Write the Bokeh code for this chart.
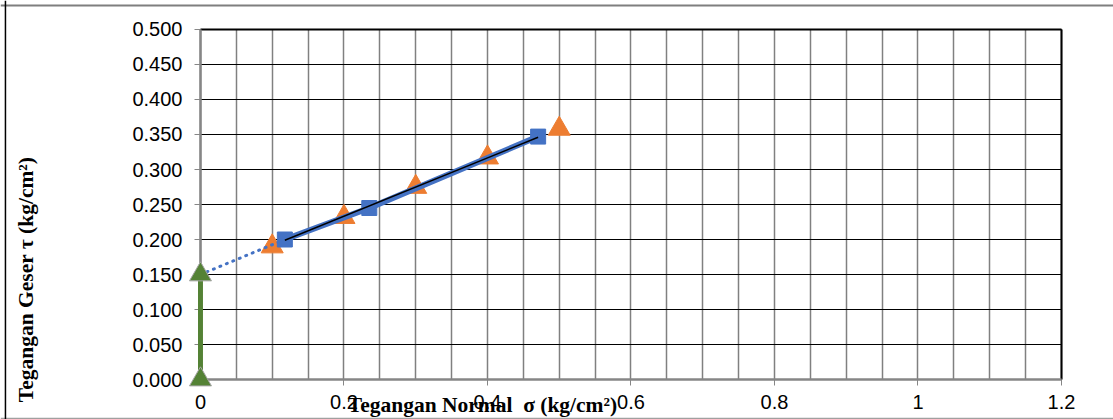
from math import pi
from bokeh.plotting import figure
from bokeh.models import Range1d, FixedTicker, Label, Span, Grid
from bokeh.embed import file_html
from bokeh.resources import INLINE

# ---- data ----
sq_normal = [0.1176, 0.2353, 0.4706]
sq_shear = [0.200, 0.245, 0.347]
tri_normal = [0.1, 0.2, 0.3, 0.4, 0.5]
tri_shear = [0.190, 0.232, 0.275, 0.317, 0.358]
green_normal = [0.0, 0.0]
green_shear = [0.0, 0.150]
ext_normal = [0.0, 0.1176]
ext_shear = [0.150, 0.200]
trend_normal = [0.1176, 0.4706]
trend_shear = [0.199, 0.346]

x_ticks = [0.0, 0.2, 0.4, 0.6, 0.8, 1.0, 1.2]
x_tick_labels = ["0", "0.2", "0.4", "0.6", "0.8", "1", "1.2"]
x_grid = [0.0, 0.05, 0.1, 0.15, 0.2, 0.25, 0.3, 0.35, 0.4, 0.45, 0.5, 0.55, 0.6,
          0.65, 0.7, 0.75, 0.8, 0.85, 0.9, 0.95, 1.0, 1.05, 1.1, 1.15, 1.2]
y_ticks = [0.0, 0.05, 0.1, 0.15, 0.2, 0.25, 0.3, 0.35, 0.4, 0.45, 0.5]
y_tick_labels = ["0.000", "0.050", "0.100", "0.150", "0.200", "0.250", "0.300",
                 "0.350", "0.400", "0.450", "0.500"]

x_title = "Tegangan Normal\u00a0 σ (kg/cm²)"
y_title = "Tegangan Geser τ (kg/cm²)"

X_MIN, X_MAX = 0.0, 1.2
Y_MIN, Y_MAX = 0.0, 0.5
# view extents (the frame covers the whole canvas so nothing is clipped)
VX = (-0.2787, 1.2725)
VY = (-0.0571, 0.5414)

p = figure(width=1113, height=419, output_backend="svg", toolbar_location=None,
           x_range=Range1d(*VX), y_range=Range1d(*VY),
           min_border_left=0, min_border_right=0, min_border_top=0, min_border_bottom=0)
p.outline_line_color = None
p.background_fill_color = "white"
p.border_fill_color = "white"

# grids
p.xgrid.ticker = FixedTicker(ticks=x_grid)
p.xgrid.bounds = (X_MIN, X_MAX)
p.xgrid.cross_bounds = (Y_MIN, Y_MAX)
p.xgrid.grid_line_color = "#808080"
p.xgrid.grid_line_width = 1.5
p.ygrid.ticker = FixedTicker(ticks=y_ticks)
p.ygrid.bounds = (Y_MIN, Y_MAX)
p.ygrid.cross_bounds = (X_MIN, X_MAX)
p.ygrid.grid_line_color = "black"
p.ygrid.grid_line_width = 1

p.add_layout(Grid(dimension=0, ticker=FixedTicker(ticks=[X_MAX]), bounds=(X_MIN, X_MAX),
                  cross_bounds=(Y_MIN, Y_MAX), grid_line_color="black", grid_line_width=2))
p.add_layout(Grid(dimension=1, ticker=FixedTicker(ticks=[Y_MAX]), bounds=(Y_MIN, Y_MAX),
                  cross_bounds=(X_MIN, X_MAX), grid_line_color="black", grid_line_width=2))

# outer chart border (cropped frame of the original picture)
p.add_layout(Span(location=0.5343, dimension="width", line_color="#7f7f7f", line_width=2))
p.add_layout(Span(location=-0.0557, dimension="width", line_color="#a0a0a0", line_width=1.5))
p.add_layout(Span(location=-0.2718, dimension="height", line_color="black", line_width=1.5))

# axes
for ax in (p.xaxis[0], p.yaxis[0]):
    ax.fixed_location = 0
    ax.axis_line_color = "#868686"
    ax.axis_line_width = 2.5
    ax.major_tick_line_color = "#868686"
    ax.major_tick_out = 6
    ax.major_tick_in = 0
    ax.minor_tick_line_color = None
    ax.major_label_text_font = "Liberation Sans"
    ax.major_label_text_font_size = "20px"
    ax.major_label_text_color = "black"

p.xaxis.bounds = (X_MIN, X_MAX)
p.yaxis.bounds = (Y_MIN, Y_MAX)
p.xaxis.ticker = FixedTicker(ticks=x_ticks, minor_ticks=[])
p.xaxis.major_label_overrides = dict(zip(x_ticks, x_tick_labels))
p.xaxis.major_label_standoff = 9
p.yaxis.ticker = FixedTicker(ticks=y_ticks, minor_ticks=[])
p.yaxis.major_label_overrides = dict(zip(y_ticks, y_tick_labels))
p.yaxis.major_label_standoff = 12

# glyphs
p.scatter(tri_normal, tri_shear, marker="triangle", size=22, fill_color="#ED7D31",
          line_color="#ED7D31")
p.line(ext_normal, ext_shear, line_color="#4472C4", line_width=3, line_dash="1 6", line_cap="round")
p.line(sq_normal, sq_shear, line_color="#4472C4", line_width=6)
p.scatter(sq_normal, sq_shear, marker="square", size=15, fill_color="#4472C4", line_color="#4472C4")
p.line(trend_normal, trend_shear, line_color="black", line_width=1.5)
r = p.line(green_normal, green_shear, line_color="#548235", line_width=5)
r.level = "annotation"
r = p.scatter(green_normal, green_shear, marker="triangle", size=22, fill_color="#548235",
              line_color="#a6a6a6", line_width=1)
r.level = "annotation"

# titles
p.add_layout(Label(x=0.393, y=-0.037, text=x_title, text_font="Liberation Serif",
                   text_font_style="bold", text_font_size="21.5px", text_align="center",
                   text_baseline="middle", text_color="black"))
p.add_layout(Label(x=-0.243, y=0.143, text=y_title, angle=pi / 2, text_font="Liberation Serif",
                   text_font_style="bold", text_font_size="21.5px", text_align="center",
                   text_baseline="middle", text_color="black"))

open("out.html", "w").write(file_html(p, INLINE))
